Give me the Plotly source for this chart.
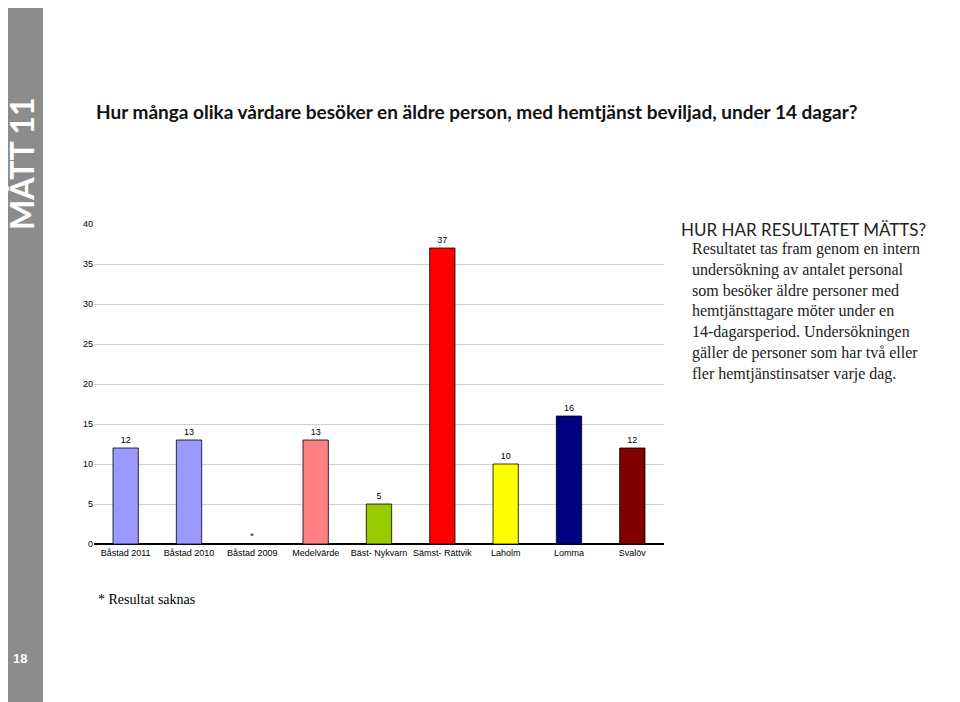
import plotly.graph_objects as go

categories = ["Båstad 2011", "Båstad 2010", "Båstad 2009", "Medelvärde", "Bäst- Nykvarn",
              "Sämst- Rättvik", "Laholm", "Lomma", "Svalöv"]
values = [12, 13, None, 13, 5, 37, 10, 16, 12]
colors = ["#9999FF", "#9999FF", "#9999FF", "#FF8080", "#99CC00",
          "#FF0000", "#FFFF00", "#000080", "#800000"]
y_ticks = [0, 5, 10, 15, 20, 25, 30, 35, 40]

labels = ["*" if v is None else str(v) for v in values]

fig = go.Figure()
fig.add_trace(go.Bar(
    x=categories, y=[0 if v is None else v for v in values],
    marker=dict(color=colors, line=dict(color="black", width=0.8)),
    text=labels, textposition="outside",
    textfont=dict(family="Arial", size=9, color="black"),
    width=0.4, cliponaxis=False,
))

# gray sidebar
fig.add_shape(type="rect", xref="paper", yref="paper", x0=-0.3, x1=-0.0895, y0=-1, y1=2,
              fillcolor="#8C8C8C", line_width=0, layer="below")

fig.update_layout(
    width=960, height=702,
    margin=dict(l=86, r=304, t=216, b=166),
    plot_bgcolor="white", paper_bgcolor="white",
    showlegend=False,
    font=dict(family="Arial", size=9, color="black"),
    bargap=0.6,
)
fig.update_xaxes(showline=True, linecolor="black", linewidth=1, ticks="", tickfont=dict(size=9))
fig.update_yaxes(range=[0, 40], tickvals=y_ticks, showgrid=True, gridcolor="#D0D0D0",
                 showline=False, zeroline=True, zerolinecolor="black", tickfont=dict(size=9))


def px(x):
    return (x - 95) / 570


def py(y):
    return (545 - y) / 320


ann = [
    dict(text="<b>Hur många olika vårdare besöker en äldre person, med hemtjänst beviljad, under 14 dagar?</b>",
         x=95, y=99, font=dict(family="Lato", size=19, color="#111111")),
    dict(text="HUR HAR RESULTATET MÄTTS?", x=680, y=218,
         font=dict(family="Lato", size=17, color="#222222")),
    dict(text="Resultatet tas fram genom en intern<br>undersökning av antalet personal<br>"
              "som besöker äldre personer med<br>hemtjänsttagare möter under en<br>"
              "14-dagarsperiod. Undersökningen<br>gäller de personer som har två eller<br>"
              "fler hemtjänstinsatser varje dag.",
         x=691, y=239, font=dict(family="Liberation Serif", size=16, color="#222222")),
    dict(text="* Resultat saknas", x=97, y=591,
         font=dict(family="Liberation Serif", size=14, color="black")),
    dict(text="<b>18</b>", x=12, y=650, font=dict(family="Arial", size=13, color="white")),
]
for a in ann:
    fig.add_annotation(xref="paper", yref="paper", showarrow=False, align="left",
                       xanchor="left", yanchor="top",
                       x=px(a["x"]), y=py(a["y"]),
                       text=a["text"], font=a["font"])

fig.add_annotation(xref="paper", yref="paper", showarrow=False, textangle=-90,
                   xanchor="center", yanchor="middle",
                   x=px(22), y=py(165),
                   text="<b>MÅTT 11</b>", font=dict(family="Lato", size=32, color="white"))

fig.write_html("out.html")
